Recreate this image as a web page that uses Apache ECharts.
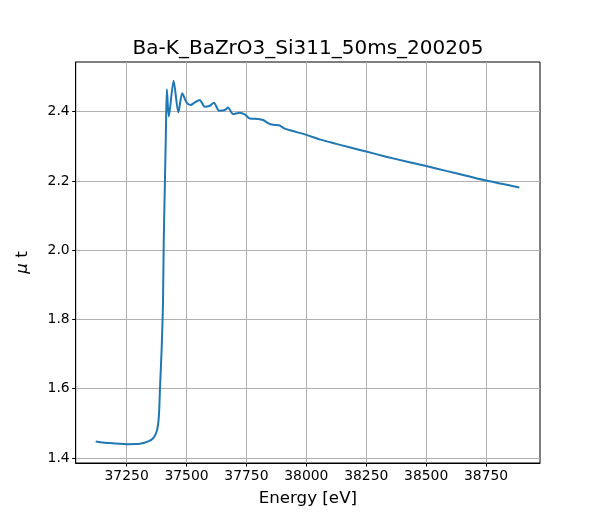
<!DOCTYPE html>
<html>
<head>
<meta charset="utf-8">
<script src="https://cdn.jsdelivr.net/npm/echarts@6/dist/echarts.min.js"></script>
<style>html,body{margin:0;padding:0;background:#fff}#c{width:600px;height:520px}</style>
</head>
<body>
<div id="c"></div>
<script>
const energy = [37121,37180,37250,37305,37340,37361,37375,37382,37386,37389,37396,37400,37402,37405,37410,37414,37418,37426,37446,37466,37482,37500,37517,37535,37555,37576,37597,37614,37636,37660,37673,37694,37722,37743,37764,37798,37819,37840,37861,37886,37910,37944,38000,38055,38125,38180,38250,38333,38417,38500,38583,38667,38750,38889];
const mut = [1.448,1.443,1.440,1.441,1.448,1.457,1.476,1.501,1.539,1.597,1.712,1.799,1.857,2.030,2.203,2.347,2.465,2.386,2.489,2.398,2.453,2.427,2.419,2.427,2.434,2.414,2.417,2.426,2.403,2.405,2.412,2.393,2.397,2.392,2.380,2.379,2.376,2.367,2.362,2.361,2.351,2.344,2.333,2.320,2.307,2.297,2.285,2.270,2.256,2.243,2.229,2.215,2.201,2.181];
const xTicks = [37250,37500,37750,38000,38250,38500,38750];
const yTicks = [1.4,1.6,1.8,2.0,2.2,2.4];
const titleText = 'Ba-K_BaZrO3_Si311_50ms_200205';

const chart = echarts.init(document.getElementById('c'), null, {renderer:'canvas'});
const font = 'DejaVu Sans';
chart.setOption({
  animation:false,
  backgroundColor:'#fff',
  title:{text:titleText,left:303,textAlign:'center',top:34,textStyle:{fontFamily:font,fontSize:20,fontWeight:'normal',color:'#000'}},
  grid:{left:75.7,right:60,top:62,bottom:57,show:true,borderColor:'#000',borderWidth:1,backgroundColor:'transparent'},
  xAxis:{type:'value',min:37037.5,max:38975,
    name:'Energy [eV]',nameLocation:'middle',nameGap:27,
    nameTextStyle:{fontFamily:font,fontSize:16.7,color:'#000'},
    axisLine:{show:true,lineStyle:{color:'#000',width:1}},
    axisTick:{show:true,length:3.5,customValues:xTicks,lineStyle:{color:'#000'}},
    axisLabel:{customValues:xTicks,fontFamily:font,fontSize:13.9,color:'#000',margin:6,formatter:v=>String(v)},
    splitLine:{show:true,lineStyle:{color:'#b0b0b0',width:1}}
  },
  yAxis:{type:'value',min:1.3856,max:2.5434,
    name:'{i|μ} t',nameLocation:'middle',nameGap:45,nameRotate:90,
    nameTextStyle:{fontFamily:font,fontSize:16.7,color:'#000',rich:{i:{fontFamily:font,fontSize:16.7,fontStyle:'italic',color:'#000'}}},
    axisLine:{show:true,lineStyle:{color:'#000',width:1}},
    axisTick:{show:true,length:3.5,customValues:yTicks,lineStyle:{color:'#000'}},
    axisLabel:{customValues:yTicks,fontFamily:font,fontSize:13.9,color:'#000',margin:6,formatter:v=>v.toFixed(1)},
    splitLine:{show:true,lineStyle:{color:'#b0b0b0',width:1}}
  },
  series:[{type:'line',data:energy.map((e,i)=>[e,mut[i]]),showSymbol:false,smooth:0.25,
    lineStyle:{color:'#1f77b4',width:2},itemStyle:{color:'#1f77b4'}}]
});
</script>
</body>
</html>
